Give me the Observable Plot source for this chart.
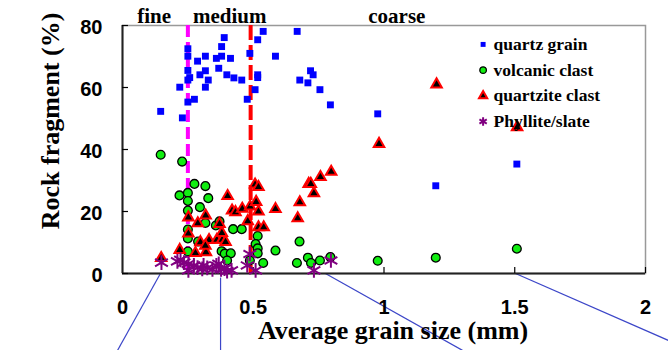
<!DOCTYPE html>
<html><head><meta charset="utf-8">
<script src="https://cdn.jsdelivr.net/npm/d3@7"></script>
<script src="https://cdn.jsdelivr.net/npm/@observablehq/plot@0.6"></script>
<style>html,body{margin:0;padding:0;background:#fff} #chart svg{display:block}</style>
</head><body><div id="chart"></div>
<script>
// [average grain size (mm), rock fragment (%)]
const quartzGrain = [[0.146,52.3],[0.229,50.2],[0.250,55.3],[0.275,56.2],[0.219,60.1],[0.250,62.4],[0.257,63.2],[0.250,65.5],[0.250,70.1],[0.250,72.5],[0.287,68.5],[0.296,64.1],[0.317,65.4],[0.317,70.1],[0.328,62.4],[0.317,60.1],[0.359,69.4],[0.368,66.2],[0.379,70.1],[0.379,73.2],[0.389,76.1],[0.399,64.1],[0.413,69.4],[0.426,63.1],[0.456,62.4],[0.477,56.2],[0.487,71.0],[0.507,59.3],[0.517,64.1],[0.517,63.2],[0.517,75.4],[0.538,78.1],[0.585,70.1],[0.668,78.1],[0.678,62.4],[0.709,61.5],[0.719,65.4],[0.729,64.1],[0.755,59.3],[0.795,54.4],[0.976,51.5],[1.198,28.3],[1.508,35.3]];
const volcanicClast = [[0.146,38.3],[0.228,36.1],[0.275,28.9],[0.317,28.2],[0.218,25.2],[0.250,26.0],[0.250,23.4],[0.328,24.3],[0.296,21.4],[0.250,20.3],[0.317,16.3],[0.357,15.5],[0.371,16.8],[0.250,14.2],[0.250,11.3],[0.289,10.3],[0.250,7.1],[0.379,7.2],[0.391,6.4],[0.414,6.5],[0.400,4.2],[0.423,14.3],[0.456,14.3],[0.517,12.1],[0.509,9.5],[0.517,8.1],[0.517,6.5],[0.538,3.4],[0.585,7.4],[0.667,3.4],[0.677,10.3],[0.709,5.1],[0.721,3.4],[0.755,4.2],[0.795,5.3],[0.976,4.1],[1.198,5.1],[1.508,8.0],[0.487,4.2]];
const quartziteClast = [[0.148,5.0],[0.219,7.6],[0.279,6.6],[0.288,16.2],[0.318,18.7],[0.298,10.1],[0.331,10.8],[0.361,10.9],[0.381,10.9],[0.380,13.1],[0.371,16.0],[0.319,6.9],[0.317,9.0],[0.394,10.2],[0.402,25.0],[0.419,20.3],[0.432,19.8],[0.458,20.9],[0.479,16.9],[0.488,21.6],[0.507,28.7],[0.520,27.9],[0.511,23.1],[0.520,20.0],[0.520,14.9],[0.540,14.9],[0.585,20.8],[0.670,17.8],[0.678,23.0],[0.732,25.9],[0.712,28.9],[0.720,28.9],[0.757,31.1],[0.798,32.8],[0.981,41.8],[1.201,61.0],[1.509,47.2],[0.252,18.1],[0.252,12.9]];
const phylliteSlate = [[0.149,3.5],[0.210,3.9],[0.222,4.4],[0.235,3.5],[0.252,3.1],[0.252,1.0],[0.273,2.6],[0.287,1.9],[0.310,2.6],[0.324,1.8],[0.305,1.5],[0.359,2.6],[0.368,3.1],[0.377,1.3],[0.400,0.8],[0.417,1.0],[0.477,2.6],[0.487,6.3],[0.509,1.0],[0.732,1.0],[0.797,4.2],[0.344,1.3],[0.390,1.6]];

const seriesNames = ["quartz grain", "volcanic clast", "quartzite clast", "Phyllite/slate"];
const xTicks = [0, 0.5, 1, 1.5, 2];
const yTicks = [0, 20, 40, 60, 80];
const classBounds = [0.25, 0.49];           // fine/medium, medium/coarse
const classNames = ["fine", "medium", "coarse"];
const classLabelAt = [0.121, 0.410, 1.049];
// callout lines leading below the axis: [x1, y1, x2, y2]
const callouts = [[0.145,0,-0.019,-24.8],[0.375,-1.3,0.375,-24.8],[0.776,0,1.300,-24.8],[1.503,0,2.088,-21.6]];

const serif = "'Liberation Serif','Times New Roman',serif";
const sans = "'Liberation Sans',Arial,sans-serif";
const rows = pts => pts.map(([x, y]) => ({x, y}));

const styles = [
  {symbol: "square", fill: "#0000ff", stroke: "none", r: 3.9, lr: 2.9},
  {symbol: "circle", fill: "#11ee11", stroke: "#000", strokeWidth: 1.3, r: 4.4, lr: 4},
  {symbol: "triangle", fill: "#000", stroke: "#ff0000", strokeWidth: 2, r: 3.9, lr: 3.5},
  {symbol: "asterisk", fill: "none", stroke: "#800080", strokeWidth: 2, r: 7, lr: 6}
];
const legendRows = seriesNames.map((name, i) => ({name, i, x: 1.379, y: 73.9 - 8.3 * i}));

const dots = (data, s) => Plot.dot(rows(data), {x: "x", y: "y", symbol: () => s.symbol, fill: s.fill, stroke: s.stroke, strokeWidth: s.strokeWidth, r: s.r});

const chart = Plot.plot({
  width: 668, height: 350,
  marginTop: 25, marginLeft: 122, marginRight: 23, marginBottom: 77,
  x: {domain: [0, 2], label: null},
  y: {domain: [0, 80], label: null},
  symbol: {type: "identity"},
  style: {background: "white", overflow: "visible"},
  marks: [
    Plot.frame({stroke: "#999", strokeWidth: 1.5}),
    Plot.link(callouts, {x1: d => d[0], y1: d => d[1], x2: d => d[2], y2: d => d[3], stroke: "#3c46c8", strokeWidth: 1.2}),
    Plot.ruleX([classBounds[0]], {stroke: "#ff00ff", strokeWidth: 4, strokeDasharray: "12,5"}),
    Plot.ruleX([classBounds[1]], {stroke: "#ff0000", strokeWidth: 4, strokeDasharray: "15,5"}),
    Plot.ruleX([0], {stroke: "#222", strokeWidth: 2}),
    Plot.ruleY([0], {stroke: "#222", strokeWidth: 2}),
    Plot.tickX(xTicks.slice(1), {x: d => d, insetTop: 242, stroke: "#000", strokeWidth: 1.2}),
    Plot.tickY(yTicks, {y: d => d, insetRight: 517, stroke: "#000", strokeWidth: 1.2}),
    Plot.axisX(xTicks, {tickSize: 0, tickPadding: 26, fontSize: 20, fontWeight: "bold", fontFamily: sans, tickFormat: d => String(d), label: null}),
    Plot.axisY(yTicks, {tickSize: 0, tickPadding: 20, dy: 2, fontSize: 20, fontWeight: "bold", fontFamily: sans, tickFormat: d => String(d), label: null}),
    dots(volcanicClast, styles[1]),
    dots(quartziteClast, styles[2]),
    dots(quartzGrain, styles[0]),
    dots(phylliteSlate, styles[3]),
    Plot.text(classNames, {x: (d, i) => classLabelAt[i], y: 80, dy: -9.7, text: d => d, fontSize: 21, fontWeight: "bold", fontFamily: serif, fill: "#000"}),
    Plot.text(["Average grain size (mm)"], {frameAnchor: "bottom", textAnchor: "middle", lineAnchor: "middle", dx: 9, dy: 56.7, fontSize: 26, fontWeight: "bold", fontFamily: serif, fill: "#000"}),
    Plot.text(["Rock fragment (%)"], {frameAnchor: "left", textAnchor: "middle", lineAnchor: "middle", rotate: -90, dx: -72.3, dy: -28.5, fontSize: 26, fontWeight: "bold", fontFamily: serif, fill: "#000"}),
    Plot.dot(legendRows, {x: "x", y: "y", symbol: d => styles[d.i].symbol, fill: d => styles[d.i].fill, stroke: d => styles[d.i].stroke, strokeWidth: d => styles[d.i].strokeWidth ?? 1, r: d => styles[d.i].lr}),
    Plot.text(legendRows, {x: "x", y: "y", dx: 10.5, text: "name", textAnchor: "start", fontSize: 17.5, fontWeight: "bold", fontFamily: serif, fill: "#000"})
  ]
});
document.getElementById("chart").append(chart);
</script>
</body></html>
